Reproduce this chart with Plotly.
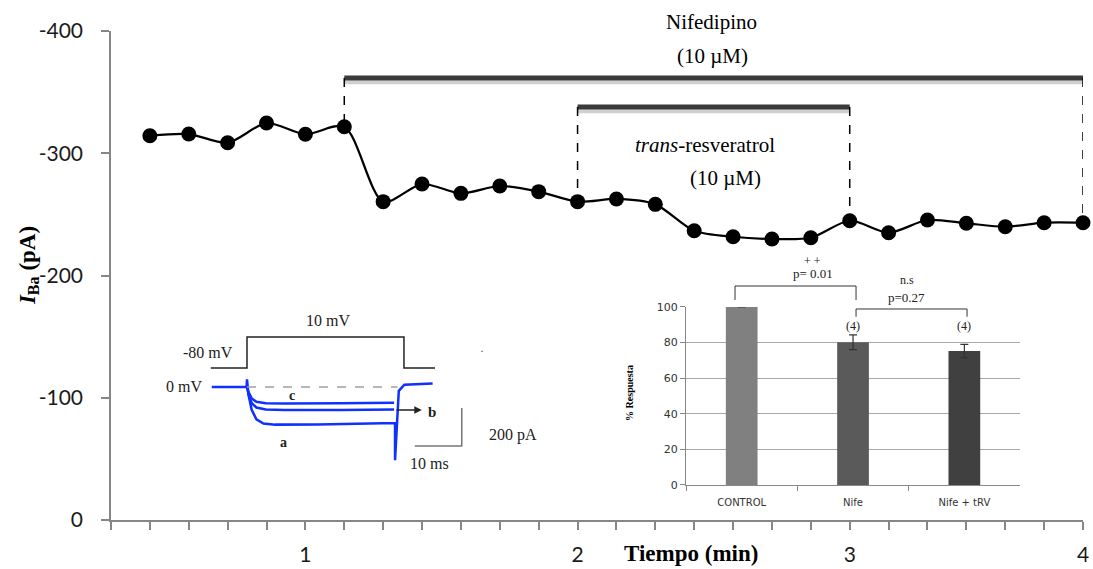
import plotly.graph_objects as go

# ---------------- main time course ----------------
time_index = list(range(25))
iba_pA = [-314.3, -315.7, -308.6, -324.7, -315.5, -321.7, -260.4, -274.8, -267.2,
          -273.2, -268.6, -260.4, -262.6, -258.2, -236.6, -231.7, -229.9, -230.9,
          -244.8, -235.0, -245.4, -242.7, -239.9, -243.2, -243.2]
tick_positions = list(range(-1, 25))
tick_labels = {4: "1", 11: "2", 18: "3", 24: "4"}
y_ticks = [0, -100, -200, -300, -400]

nife_start, nife_end, nife_level = 5, 24, -361.6
trv_start, trv_end, trv_level = 11, 18, -337.8

# ---------------- bar inset ----------------
bar_cats = ["CONTROL", "Nife", "Nife + tRV"]
bar_vals = [100, 80.2, 75.3]
bar_err = [0, 4.1, 3.7]
bar_colors = ["#808080", "#5a5a5a", "#404040"]
bar_n = ["", "(4)", "(4)"]

# ---------------- current trace inset (ms, pA) ----------------
t_a = [-7.5, -0.1, 0.0, 0.3, 1.0, 2.0, 3.5, 6, 15, 25, 31.3, 31.5, 31.5, 32.3, 33.5, 36, 39.5]
i_a = [0, 0, 40, -40, -120, -170, -192, -198, -197, -193, -190, -190, -385, -20, 12, 15, 18]
t_b = [0.0, 0.3, 1.0, 2.0, 4.0, 8, 20, 31.3]
i_b = [0, -35, -85, -108, -118, -121, -121, -118]
t_c = [0.0, 0.3, 1.0, 2.0, 4.0, 8, 20, 31.3]
i_c = [0, -25, -60, -78, -85, -87, -86, -83]
t_v = [-7.7, 0, 0, 33.4, 33.4, 40]
v_cmd = [-80, -80, 10, 10, -80, -80]

SERIF = "Liberation Serif"
SANS = "Lato"

fig = go.Figure()

fig.add_trace(go.Scatter(
    x=time_index, y=iba_pA, mode="lines+markers",
    line=dict(color="black", width=2.2, shape="spline", smoothing=0.8),
    marker=dict(color="black", size=15),
    cliponaxis=False, showlegend=False, xaxis="x", yaxis="y"))

# bar inset
fig.add_trace(go.Bar(
    x=bar_cats, y=bar_vals, marker=dict(color=bar_colors, line=dict(width=0)),
    width=0.285,
    error_y=dict(type="data", array=bar_err, color="#333333", thickness=1.2, width=4),
    showlegend=False, xaxis="x2", yaxis="y2"))

# trace inset
for tt, ii in [(t_a, i_a), (t_b, i_b), (t_c, i_c)]:
    fig.add_trace(go.Scatter(x=tt, y=ii, mode="lines",
                             line=dict(color="#1030ff", width=2.5),
                             showlegend=False, xaxis="x3", yaxis="y3"))
fig.add_trace(go.Scatter(x=[0, 32], y=[0, 0], mode="lines",
                         line=dict(color="#a0a0a0", width=1.5, dash="dash"),
                         showlegend=False, xaxis="x3", yaxis="y3"))
fig.add_trace(go.Scatter(x=t_v, y=v_cmd, mode="lines",
                         line=dict(color="#222222", width=1.5),
                         showlegend=False, xaxis="x3", yaxis="y4"))

shapes = []
# drug bars with shadow
for (s, e, lvl) in [(nife_start, nife_end, nife_level), (trv_start, trv_end, trv_level)]:
    shapes.append(dict(type="line", xref="x", yref="y", x0=s, x1=e, y0=lvl + 3.5, y1=lvl + 3.5,
                       line=dict(color="#d0d0d0", width=4)))
    shapes.append(dict(type="line", xref="x", yref="y", x0=s, x1=e, y0=lvl, y1=lvl,
                       line=dict(color="#3a3a3a", width=5)))
    shapes.append(dict(type="line", xref="x", yref="y", x0=s, x1=s, y0=lvl, y1=iba_pA[s],
                       line=dict(color="black", width=1.5, dash="dash")))
    shapes.append(dict(type="line", xref="x", yref="y", x0=e, x1=e, y0=lvl, y1=iba_pA[e],
                       line=dict(color="black", width=1.5, dash="dash")))

# significance brackets (bar inset), paper coordinates
for (xa, xb, ytop, ybot) in [(0.642, 0.7665, 0.4785, 0.4499), (0.7665, 0.8807, 0.4315, 0.4157)]:
    shapes.append(dict(type="path", xref="paper", yref="paper",
                       path=f"M {xa},{ybot} L {xa},{ytop} L {xb},{ytop} L {xb},{ybot}",
                       line=dict(color="#333333", width=1)))

# scale bar in trace inset
shapes.append(dict(type="path", xref="x3", yref="y3",
                   path="M 45.7,-110 L 45.7,-310 L 35.7,-310",
                   line=dict(color="#777777", width=1.5)))

def ptxt(text, x, y, size, angle=0, color="black"):
    return dict(text=text, xref="paper", yref="paper", x=x, y=y, xanchor="center",
                yanchor="middle", textangle=angle, showarrow=False,
                font=dict(family=SERIF, size=size, color=color))

annotations = [
    ptxt("Nifedipino", 0.618, 1.018, 21),
    ptxt("(10 µM)", 0.619, 0.949, 21),
    ptxt("<i>trans</i>-resveratrol", 0.611, 0.767, 21),
    ptxt("(10 µM)", 0.632, 0.699, 21),
    ptxt("<b><i>I</i><sub>Ba</sub> (pA)</b>", -0.085, 0.52, 23, angle=-90),
    ptxt("<b>Tiempo (min)</b>", 0.597, -0.068, 23),
    # bar inset texts
    ptxt("+ +", 0.7222, 0.530, 12, color="#222"),
    ptxt("p= 0.01", 0.7222, 0.5041, 13, color="#222"),
    ptxt("n.s", 0.8189, 0.4908, 12, color="#222"),
    ptxt("p=0.27", 0.8189, 0.456, 13, color="#222"),
    ptxt("<b>% Respuesta</b>", 0.534, 0.26, 10, angle=-90),
    # trace inset texts
    dict(text="10 mV", xref="x3", yref="y4", x=17.2, y=59, showarrow=False,
         font=dict(family=SERIF, size=16, color="#222")),
    dict(text="-80 mV", xref="x3", yref="y4", x=-2.5, y=-35, xanchor="right", showarrow=False,
         font=dict(family=SERIF, size=16, color="#222")),
    dict(text="0 mV", xref="x3", yref="y3", x=-9.2, y=5, xanchor="right", showarrow=False,
         font=dict(family=SERIF, size=16, color="#222")),
    dict(text="<b>c</b>", xref="x3", yref="y3", x=9.6, y=-45, showarrow=False,
         font=dict(family=SERIF, size=14, color="#222")),
    dict(text="<b>a</b>", xref="x3", yref="y3", x=7.7, y=-290, showarrow=False,
         font=dict(family=SERIF, size=14, color="#222")),
    dict(text="<b>b</b>", xref="x3", yref="y3", x=38.0, y=-130, xanchor="left", showarrow=False,
         font=dict(family=SERIF, size=15, color="#222")),
    dict(text="", xref="x3", yref="y3", x=37.2, y=-121, ax=31.5, ay=-121,
         axref="x3", ayref="y3", showarrow=True, arrowhead=2, arrowsize=1,
         arrowwidth=1.5, arrowcolor="#222"),
    dict(text="200 pA", xref="x3", yref="y3", x=51, y=-255, xanchor="left", showarrow=False,
         font=dict(family=SERIF, size=16, color="#222")),
    dict(text="10 ms", xref="x3", yref="y3", x=38.9, y=-405, showarrow=False,
         font=dict(family=SERIF, size=16, color="#222")),
    dict(text="·", xref="x3", yref="y4", x=50.0, y=-30, showarrow=False,
         font=dict(family=SERIF, size=12, color="#555")),
]
for i, n in enumerate(bar_n):
    if n:
        annotations.append(dict(text=n, xref="x2", yref="y2", x=i, y=89.5, showarrow=False,
                                font=dict(family=SERIF, size=12, color="#222")))

fig.update_layout(
    width=1093, height=569,
    margin=dict(l=111, r=10, t=31, b=49, autoexpand=False),
    paper_bgcolor="white", plot_bgcolor="rgba(0,0,0,0)",
    showlegend=False,
    shapes=shapes, annotations=annotations,
    xaxis=dict(domain=[0, 1], range=[-1, 24], tickmode="array", tickvals=tick_positions,
               ticktext=[tick_labels.get(v, "") for v in tick_positions],
               ticks="outside", ticklen=8, tickwidth=1.5, tickcolor="#868686",
               showline=True, linecolor="#868686", linewidth=1.5, showgrid=False,
               zeroline=False, ticklabelstandoff=7, automargin=False,
               tickfont=dict(family=SANS, size=21, color="#1a1a1a")),
    yaxis=dict(domain=[0, 1], range=[0, -400], tickmode="array", tickvals=y_ticks,
               ticktext=[str(v) for v in y_ticks],
               ticks="outside", ticklen=8, tickwidth=1.5, tickcolor="#868686",
               showline=True, linecolor="#868686", linewidth=1.5, showgrid=False,
               zeroline=False, ticklabelstandoff=14, automargin=False,
               tickfont=dict(family=SANS, size=21, color="#1a1a1a")),
    xaxis2=dict(domain=[0.5916, 0.9352], anchor="y2", type="category",
                tickson="boundaries", ticks="outside", ticklen=5, tickcolor="#888",
                showline=True, linecolor="#888", linewidth=1, showgrid=False,
                range=[-0.5, 2.5], ticklabelstandoff=8, automargin=False,
                tickfont=dict(family="DejaVu Sans", size=10, color="#333")),
    yaxis2=dict(domain=[0.0716, 0.4356], anchor="x2", range=[0, 100],
                tickvals=[0, 20, 40, 60, 80, 100], ticks="outside", ticklen=5,
                tickcolor="#888", showline=True, linecolor="#888", linewidth=1,
                showgrid=True, gridcolor="#a8a8a8", gridwidth=1, zeroline=False,
                automargin=False,
                tickfont=dict(family="DejaVu Sans", size=11, color="#333")),
    xaxis3=dict(domain=[0.0674, 0.430], anchor="y3", range=[-15, 60], visible=False),
    yaxis3=dict(domain=[0.0777, 0.4468], anchor="x3", range=[-500, 450], visible=False),
    yaxis4=dict(domain=[0.0777, 0.4468], anchor="x3", overlaying="y3",
                range=[-411, 113], visible=False),
)

fig.write_html("out.html", config={"displayModeBar": False},
               post_script="document.body.style.margin='0px';")
